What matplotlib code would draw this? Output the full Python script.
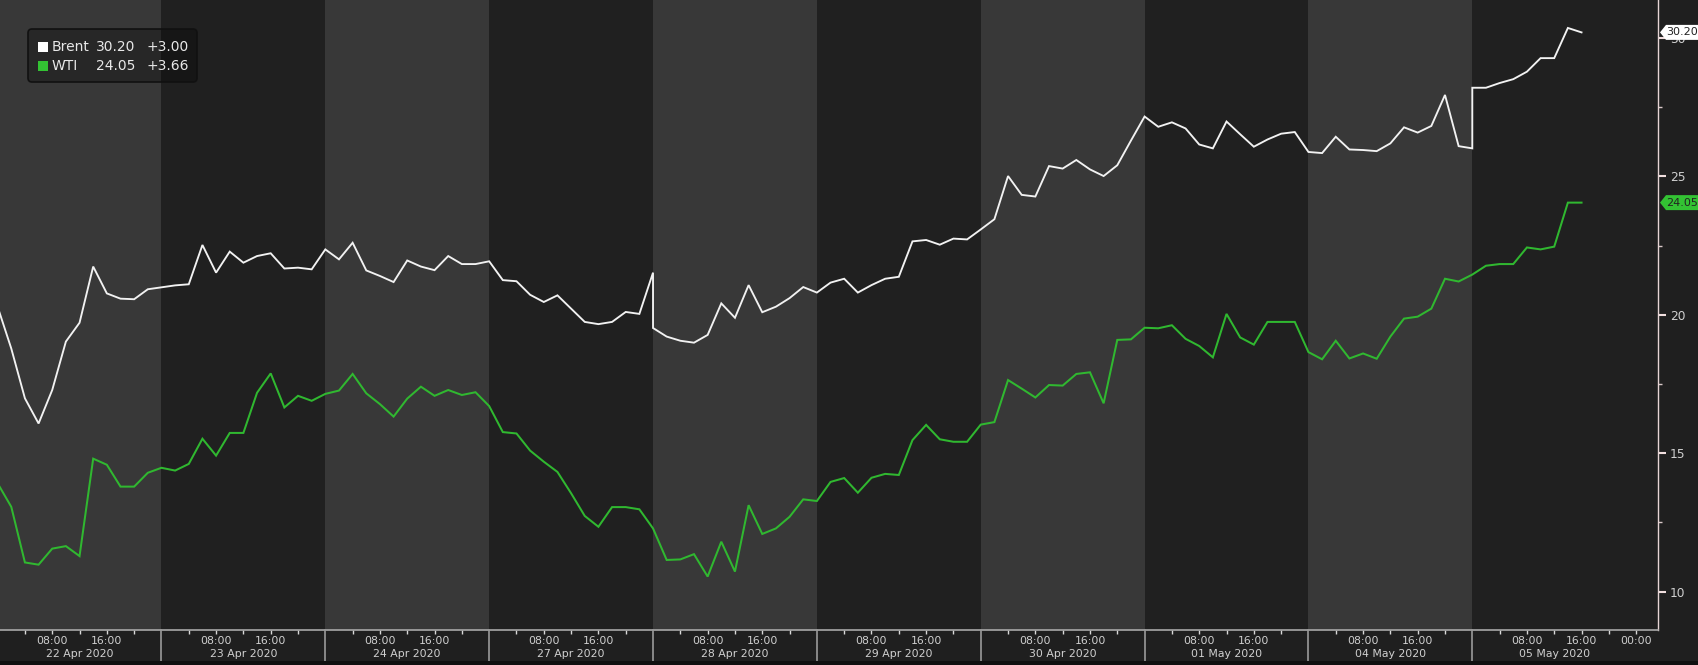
import matplotlib
matplotlib.use("Agg")
import matplotlib.pyplot as plt
import matplotlib.patches as mpatches
import matplotlib.transforms as mtransforms
import numpy as np

# ---------------- data ----------------
day_labels = ["22 Apr 2020", "23 Apr 2020", "24 Apr 2020", "27 Apr 2020", "28 Apr 2020",
              "29 Apr 2020", "30 Apr 2020", "01 May 2020", "04 May 2020", "05 May 2020"]

# hours from 22 Apr 00:00 on a trading-day axis (24 h per trading day)
wti_hours = list(range(0, 233, 2))
brent_hours = list(range(0, 97, 2)) + list(range(96, 217, 2)) + list(range(216, 233, 2))

brent = [20.29, 18.78, 16.98, 16.07, 17.28, 19.03, 19.71, 21.74, 20.77, 20.58,
         20.56, 20.92, 20.99, 21.06, 21.10, 22.52, 21.52, 22.28, 21.88, 22.12,
         22.22, 21.67, 21.70, 21.64, 22.36, 22.00, 22.60, 21.60, 21.40, 21.18,
         21.96, 21.74, 21.61, 22.12, 21.83, 21.83, 21.93, 21.25, 21.21, 20.72,
         20.46, 20.70, 20.22, 19.74, 19.66, 19.74, 20.10, 20.03, 21.52,
         19.52, 19.21, 19.06, 18.99, 19.27, 20.41, 19.89, 21.07, 20.09, 20.29,
         20.60, 21.00, 20.80, 21.16, 21.30, 20.80, 21.07, 21.30, 21.37, 22.65,
         22.70, 22.53, 22.75, 22.72, 23.08, 23.45, 25.01, 24.33, 24.27, 25.37,
         25.28, 25.59, 25.25, 25.01, 25.40, 26.29, 27.16, 26.79, 26.95, 26.73,
         26.15, 26.01, 26.98, 26.52, 26.07, 26.33, 26.54, 26.60, 25.88, 25.84,
         26.43, 25.97, 25.95, 25.91, 26.19, 26.77, 26.58, 26.82, 27.94, 26.09,
         26.01,
         28.20, 28.20, 28.37, 28.51, 28.78, 29.27, 29.27, 30.36, 30.20]

wti = [13.91, 13.06, 11.05, 10.97, 11.55, 11.64, 11.28, 14.80, 14.58, 13.79,
       13.79, 14.29, 14.47, 14.37, 14.61, 15.52, 14.91, 15.73, 15.73, 17.18,
       17.88, 16.65, 17.07, 16.89, 17.14, 17.26, 17.86, 17.16, 16.77, 16.32,
       16.97, 17.40, 17.07, 17.28, 17.10, 17.20, 16.70, 15.76, 15.71, 15.09,
       14.69, 14.32, 13.55, 12.73, 12.34, 13.05, 13.05, 12.97, 12.28, 11.14,
       11.16, 11.35, 10.54, 11.80, 10.72, 13.12, 12.08, 12.28, 12.70, 13.33,
       13.27, 13.96, 14.10, 13.57, 14.11, 14.25, 14.21, 15.47, 16.02, 15.50,
       15.41, 15.41, 16.03, 16.12, 17.64, 17.33, 17.01, 17.46, 17.44, 17.86,
       17.92, 16.80, 19.09, 19.11, 19.53, 19.51, 19.62, 19.13, 18.87, 18.46,
       20.03, 19.18, 18.92, 19.74, 19.74, 19.74, 18.65, 18.39, 19.06, 18.42,
       18.60, 18.41, 19.21, 19.86, 19.93, 20.22, 21.30, 21.20, 21.45, 21.77,
       21.83, 21.83, 22.43, 22.36, 22.46, 24.05, 24.05]

legend_rows = [("Brent", "30.20", "+3.00"), ("WTI", "24.05", "+3.66")]
yticks_major = [10, 15, 20, 25, 30]
yticks_minor = [12.5, 17.5, 22.5, 27.5]

# ---------------- style ----------------
W, H = 1699, 665
BG = "#1f1f1f"
LIGHT = "#383838"
DARK = "#202020"
WHITE_LINE = "#f2f2f2"
GREEN_LINE = "#30b830"
GREEN_TAG = "#33c233"
TXT = "#d0d0d0"

fig = plt.figure(figsize=(W / 100, H / 100), dpi=100, facecolor=BG)
ax_bottom_px = 630
ax_right_px = 1658
ax = fig.add_axes([0, 1 - ax_bottom_px / H, ax_right_px / W, ax_bottom_px / H])
ax.set_facecolor(DARK)

ax.set_xlim(0.35, 243.2)
ax.set_ylim(8.61, 31.37)

for d in range(len(day_labels)):
    ax.axvspan(24 * d, 24 * d + 24, color=LIGHT if d % 2 == 0 else DARK, lw=0, zorder=0)

ax.plot(wti_hours, wti, color=GREEN_LINE, lw=1.45, zorder=3, solid_joinstyle="miter")
ax.plot(brent_hours, brent, color=WHITE_LINE, lw=1.35, zorder=4, solid_joinstyle="miter")

# spines
for s in ["left", "top"]:
    ax.spines[s].set_visible(False)
ax.spines["right"].set_color("#e6d4d4")
ax.spines["right"].set_linewidth(1.0)
ax.spines["bottom"].set_color("#a8a8a8")
ax.spines["bottom"].set_linewidth(1.2)

# y axis on right
ax.yaxis.tick_right()
ax.set_yticks(yticks_major)
ax.set_yticks(yticks_minor, minor=True)
ax.set_yticklabels([str(v) for v in yticks_major])
ax.tick_params(axis="y", which="major", direction="out", length=6, width=1.5,
               color="#f0dede", labelcolor=TXT, labelsize=8.8, pad=2.5)
ax.tick_params(axis="y", which="minor", direction="out", length=3, width=1,
               color="#d8c8c8")

# x axis
major_x, major_lbl, minor_x = [], [], []
for d in range(len(day_labels)):
    major_x += [24 * d + 8, 24 * d + 16]
    major_lbl += ["08:00", "16:00"]
    minor_x += [24 * d + 4, 24 * d + 12, 24 * d + 20]
major_x.append(240)
major_lbl.append("00:00")
ax.set_xticks(major_x)
ax.set_xticklabels(major_lbl)
ax.set_xticks(minor_x, minor=True)
ax.tick_params(axis="x", which="both", direction="out", length=3, width=1,
               color="#d8d8d8", labelcolor=TXT, labelsize=7.8, pad=1.5)

blend = mtransforms.blended_transform_factory(ax.transData, ax.transAxes)
for d in range(1, len(day_labels)):
    ax.plot([24 * d, 24 * d], [0, -0.05], transform=blend, color="#9a9a9a",
            lw=1.2, clip_on=False, zorder=5)
for d, lab in enumerate(day_labels):
    ax.text(24 * d + 12, -0.038, lab, transform=blend, ha="center", va="center",
            color=TXT, fontsize=7.8)

ident = mtransforms.IdentityTransform()
# dark strip at the very bottom
fig.add_artist(mpatches.Rectangle((0, 0), W, 4, transform=ident,
                                  facecolor="#101010", edgecolor="none", zorder=12))

# last-value tags on the right
fig.canvas.draw()
for val, face in [(brent[-1], "#ffffff"), (wti[-1], GREEN_TAG)]:
    yc = ax.transData.transform((0, val))[1]
    x0 = ax_right_px + 2
    poly = mpatches.Polygon([(x0, yc), (x0 + 6, yc + 7.5), (W + 2, yc + 7.5),
                             (W + 2, yc - 7.5), (x0 + 6, yc - 7.5)],
                            closed=True, transform=ident, facecolor=face,
                            edgecolor="none", zorder=10)
    fig.add_artist(poly)
    fig.text((x0 + 6) / W, yc / H, f"{val:.2f}", ha="left", va="center",
             color="#222222", fontsize=8, zorder=11)

# legend box
box = mpatches.FancyBboxPatch((28, H - 82), 169, 53,
                              boxstyle="round,pad=0,rounding_size=4",
                              transform=ident, facecolor="#000000", alpha=0.3,
                              edgecolor="none", zorder=10)
fig.add_artist(box)
box_edge = mpatches.FancyBboxPatch((28, H - 82), 169, 53,
                                   boxstyle="round,pad=0,rounding_size=4",
                                   transform=ident, facecolor="none",
                                   edgecolor="#111111", lw=1.2, zorder=10)
fig.add_artist(box_edge)
row_y = [47, 65.5]
sq_colors = ["#ffffff", GREEN_TAG]
for (name, last, chg), ry, sc in zip(legend_rows, row_y, sq_colors):
    sq = mpatches.Rectangle((38, H - ry - 5), 10, 10, transform=ident,
                            facecolor=sc, edgecolor="none", zorder=11)
    fig.add_artist(sq)
    for xpos, t in [(52, name), (96, last), (147, chg)]:
        fig.text(xpos / W, (H - ry) / H, t, ha="left", va="center",
                 color="#e8e8e8", fontsize=10, zorder=11)

fig.savefig("out.png", dpi=100, facecolor=BG)
